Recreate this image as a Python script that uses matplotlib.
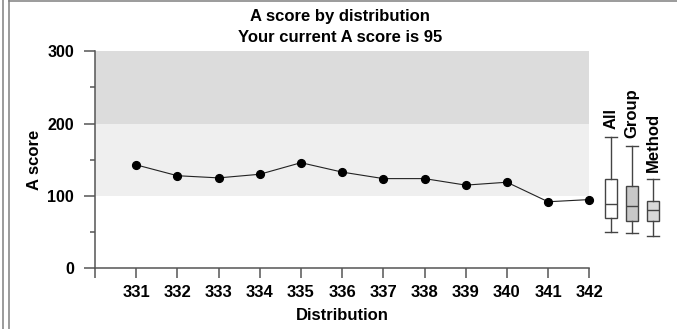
import matplotlib
matplotlib.use("Agg")
import matplotlib.pyplot as plt
from matplotlib.lines import Line2D

plt.rcParams['font.family'] = ['Liberation Sans', 'DejaVu Sans']
plt.rcParams['font.weight'] = 'bold'

# Scores per distribution
distributions = [331, 332, 333, 334, 335, 336, 337, 338, 339, 340, 341, 342]
scores = [143, 128, 125, 130, 146, 133, 124, 124, 115, 119, 92, 95]
current_score = 95

# Summary boxes: whisker low, Q1, median, Q3, whisker high
box_names = ["All", "Group", "Method"]
box_low = [50, 49, 45]
box_q1 = [70, 66, 65]
box_med = [89, 86, 80]
box_q3 = [123, 114, 93]
box_high = [182, 169, 123]
box_fill = ["#ffffff", "#c8c8c8", "#d9d9d9"]

# Background bands
band_edges = [100, 200, 300]
band_colors = ["#efefef", "#dcdcdc"]

W, H = 677, 329
fig = plt.figure(figsize=(W / 100, H / 100), dpi=100)

spine_col = "#555555"

ax = fig.add_axes([95 / W, 1 - 268.3 / H, (589.3 - 95) / W, (268.3 - 51.3) / H])
for lo, hi, c in zip(band_edges[:-1], band_edges[1:], band_colors):
    ax.axhspan(lo, hi, color=c, lw=0, zorder=0)

ax.plot(distributions, scores, color="#222222", lw=0.8, marker="o",
        markersize=5.6, markerfacecolor="black", markeredgecolor="black",
        zorder=3, clip_on=False)

ax.set_xlim(330, 342)
ax.set_ylim(0, 300)
ax.set_xticks(range(330, 343))
ax.set_xticklabels([""] + [str(d) for d in distributions])
ax.set_yticks([0, 100, 200, 300])
ax.set_yticks([50, 150, 250], minor=True)

for side in ("top", "right"):
    ax.spines[side].set_visible(False)
for side in ("left", "bottom"):
    ax.spines[side].set_color(spine_col)
    ax.spines[side].set_linewidth(1.1)

ax.tick_params(axis="x", which="major", direction="out", length=7.4, width=1.1,
               color=spine_col, labelsize=12, pad=4.7)
ax.tick_params(axis="y", which="major", direction="out", length=8, width=1.1,
               color=spine_col, labelsize=11.5, pad=7)
ax.tick_params(axis="y", which="minor", direction="out", length=3.6, width=1.1,
               color=spine_col)
for lab in ax.get_xticklabels() + ax.get_yticklabels():
    lab.set_fontweight("bold")

ax.set_xlabel("Distribution", fontsize=12, fontweight="bold", labelpad=6)
ax.set_ylabel("A score", fontsize=12, fontweight="bold", labelpad=4)

fig.text(340 / W, 1 - 17 / H, "A score by distribution", ha="center", va="center",
         fontsize=12, fontweight="bold")
fig.text(340 / W, 1 - 37 / H, f"Your current A score is {current_score}", ha="center",
         va="center", fontsize=12, fontweight="bold")

# Side box plots on a separate axes sharing the score scale
bx = fig.add_axes([600 / W, 1 - 268.3 / H, 64 / W, (268.3 - 51.3) / H])
bx.set_ylim(0, 300)
bx.set_xlim(0.5, 3.5)
bx.axis("off")
stats = []
for n, lo, q1, md, q3, hi in zip(box_names, box_low, box_q1, box_med, box_q3, box_high):
    stats.append(dict(label=n, whislo=lo, q1=q1, med=md, q3=q3, whishi=hi, fliers=[]))
positions = [1, 2, 3]
res = bx.bxp(stats, positions=positions, widths=0.56, capwidths=0.56,
             showfliers=False, patch_artist=True,
             boxprops=dict(edgecolor="#444444", linewidth=1.0),
             medianprops=dict(color="#444444", linewidth=1.0),
             whiskerprops=dict(color="#444444", linewidth=1.0),
             capprops=dict(color="#444444", linewidth=1.0))
for patch, c in zip(res["boxes"], box_fill):
    patch.set_facecolor(c)
for p, n, hi in zip(positions, box_names, box_high):
    bx.annotate(n, xy=(p, hi), xytext=(0, 5.5), textcoords="offset points",
                rotation=90, ha="center", va="bottom", fontsize=12, fontweight="bold")

# Frame lines along the left and top edges
frame_col = "#808080"
for xp in (2.5, 8.5):
    fig.add_artist(Line2D([xp / W, xp / W], [0, 1], transform=fig.transFigure,
                          color=frame_col, lw=1.1))
fig.add_artist(Line2D([8.5 / W, 1], [1 - 0.8 / H, 1 - 0.8 / H], transform=fig.transFigure,
                      color=frame_col, lw=1.1))

fig.savefig("out.png", dpi=100)
